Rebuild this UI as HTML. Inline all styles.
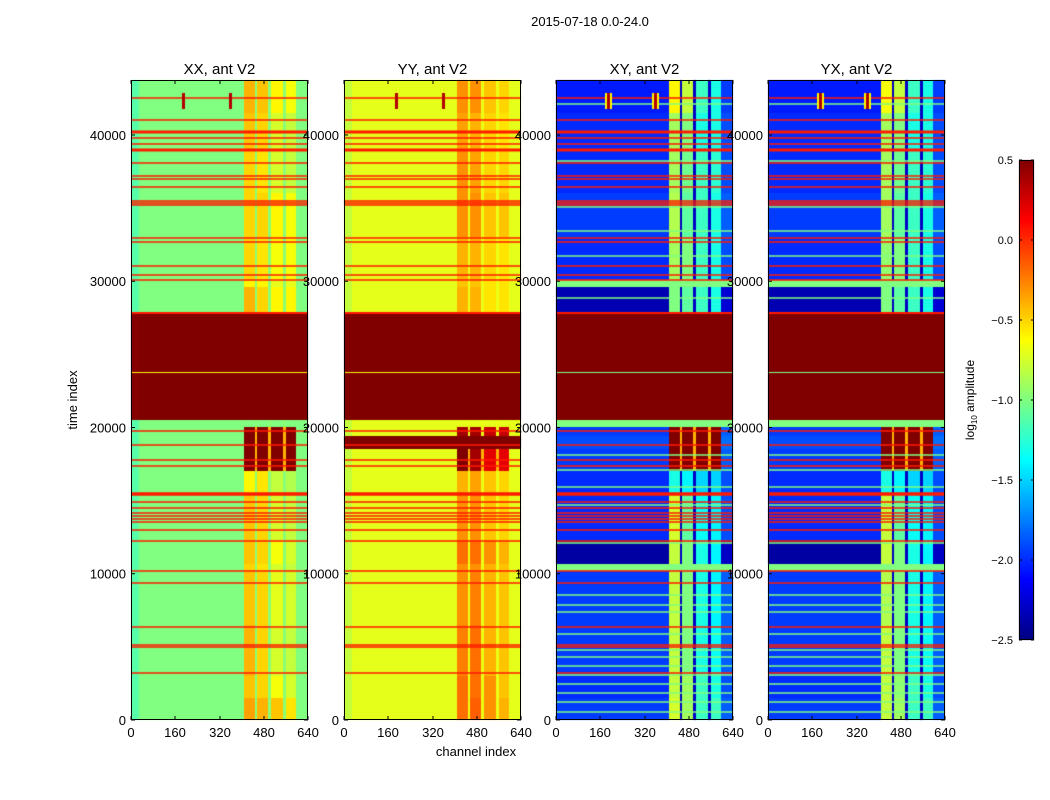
<!DOCTYPE html>
<html><head><meta charset="utf-8"><style>
body{margin:0;background:#fff;width:1050px;height:800px;overflow:hidden;font-family:"Liberation Sans",sans-serif}
#c{position:absolute;left:0;top:0}
#s{position:absolute;left:0;top:0}
</style></head><body>
<canvas id="c" width="1050" height="800"></canvas>
<svg id="s" width="1050" height="800"></svg>
<script>
// ---- data ----
const panelTitles = ["XX, ant V2","YY, ant V2","XY, ant V2","YX, ant V2"];
const channelEdges = [0,30,408,448,457,496,506,550,559,597,640];
const blockStart = [0,1500,3000,6500,10200,10650,12240,15400,17000,18500,19400,20000,20500,27830,29600,30100,33000,36000,39000,41500];
const timeMax = 43760;
const xxBase=[-1,-1,-1,-1,-1,-1,-1,-1,-1,-1,-1,-1,0.6,-1,-1,-1,-1,-1,-1,-1];
const xxB1=[-0.35,-0.45,-0.4,-0.45,-0.5,-0.45,-0.45,-0.6,0.6,0.6,0.6,-1,0.6,-0.4,-0.6,-0.5,-0.5,-0.5,-0.45,-0.4];
const xxB2=[-0.4,-0.5,-0.5,-0.5,-0.55,-0.5,-0.5,-0.55,0.6,0.6,0.6,-1,0.6,-0.5,-0.6,-0.55,-0.5,-0.55,-0.5,-0.45];
const xxB3=[-0.45,-0.65,-0.75,-0.7,-0.75,-0.65,-0.75,-0.8,0.6,0.6,0.6,-1,0.6,-0.6,-0.7,-0.65,-0.6,-0.75,-0.75,-0.6];
const xxB4=[-0.55,-0.75,-0.8,-0.75,-0.8,-0.75,-0.8,-0.85,0.6,0.6,0.6,-1,0.6,-0.6,-0.7,-0.65,-0.65,-0.8,-0.8,-0.65];
const yyBase=[-0.7,-0.7,-0.7,-0.7,-0.7,-0.7,-0.7,-0.7,-0.7,0.6,-0.7,-0.7,0.6,-0.7,-0.7,-0.7,-0.7,-0.7,-0.7,-0.7];
const yyB1=[-0.2,-0.2,-0.25,-0.3,-0.3,-0.2,-0.3,-0.4,0.5,0.6,0.4,-0.7,0.6,-0.4,-0.45,-0.4,-0.3,-0.3,-0.35,-0.3];
const yyB2=[-0.15,-0.2,-0.2,-0.25,-0.3,-0.2,-0.3,-0.35,0.4,0.6,0.4,-0.7,0.6,-0.4,-0.45,-0.4,-0.3,-0.35,-0.4,-0.3];
const yyB3=[-0.3,-0.3,-0.4,-0.4,-0.4,-0.3,-0.45,-0.45,0.2,0.6,0.3,-0.7,0.6,-0.55,-0.55,-0.5,-0.45,-0.5,-0.5,-0.45];
const yyB4=[-0.4,-0.45,-0.45,-0.45,-0.45,-0.4,-0.5,-0.5,0.2,0.6,0.3,-0.7,0.6,-0.55,-0.55,-0.55,-0.45,-0.5,-0.55,-0.5];
const xyBase=[-1.95,-2.0,-1.95,-1.95,-1.0,-2.4,-2.0,-2.0,-1.95,-1.9,-1.95,-1.0,0.6,-2.35,-1.0,-2.0,-1.95,-2.0,-2.0,-2.05];
const xyB1=[-0.75,-0.8,-0.8,-0.8,-1.0,-0.8,-0.75,-1.3,0.5,0.6,0.5,-1.0,0.6,-1.0,-1.0,-0.9,-0.85,-0.9,-0.9,-0.6];
const xyB2=[-0.9,-0.9,-1.0,-1.0,-1.0,-1.0,-1.1,-1.4,0.5,0.6,0.5,-1.0,0.6,-1.1,-1.0,-1.0,-1.1,-1.05,-1.0,-0.8];
const xyB3=[-1.2,-1.2,-1.3,-1.3,-1.0,-1.3,-1.35,-1.5,0.5,0.6,0.5,-1.0,0.6,-1.2,-1.0,-1.2,-1.2,-1.2,-1.3,-1.2];
const xyB4=[-1.2,-1.3,-1.35,-1.4,-1.0,-1.4,-1.4,-1.5,0.5,0.6,0.5,-1.0,0.6,-1.3,-1.0,-1.3,-1.3,-1.25,-1.3,-1.3];
const yxBase=[-1.95,-2.0,-1.95,-1.95,-1.0,-2.4,-2.0,-2.0,-1.95,-1.9,-1.95,-1.0,0.6,-2.35,-1.0,-2.0,-1.95,-2.0,-2.0,-2.05];
const yxB1=[-0.8,-0.8,-0.8,-0.85,-1.0,-0.8,-0.8,-1.3,0.5,0.6,0.5,-1.0,0.6,-1.0,-1.0,-0.95,-0.9,-0.9,-0.9,-0.65];
const yxB2=[-0.9,-0.95,-1.0,-1.0,-1.0,-1.0,-1.1,-1.4,0.5,0.6,0.5,-1.0,0.6,-1.1,-1.0,-1.0,-1.1,-1.05,-1.0,-0.8];
const yxB3=[-1.2,-1.2,-1.3,-1.3,-1.0,-1.3,-1.35,-1.5,0.5,0.6,0.5,-1.0,0.6,-1.2,-1.0,-1.2,-1.2,-1.2,-1.3,-1.2];
const yxB4=[-1.2,-1.3,-1.35,-1.4,-1.0,-1.4,-1.4,-1.5,0.5,0.6,0.5,-1.0,0.6,-1.3,-1.0,-1.3,-1.3,-1.25,-1.3,-1.3];
const gapLevel=[-0.9,-0.65,-2.3,-2.3];
const leftOffset=[-0.12,-0.1,0,0];
const redLineTimes=[42530,41026,40205,39795,39385,38974,38085,37197,36991,36444,35487,35350,35214,32957,32684,31043,30427,30085,27829,19761,18803,17778,17368,15453,14906,14496,14154,13949,13744,13538,12991,12239,10188,9368,6359,5128,4991,3214];
const redLineWidth=[1.5,1.5,3,1.5,1.5,3,1.5,1.5,1.5,1.5,1.5,1.5,1.5,1.5,1.5,1.5,1.5,1.5,2,1.5,1.5,1.5,1.5,3.5,1.5,1.5,1.5,1.5,1.5,1.5,1.5,1.5,1.5,1.5,1.5,1.5,1.5,1.5];
const redLineValue=0.05;
const greenLineTimes=[42120,38222,35077,33436,31726,28855,18120,17094,15932,14701,12103,8547,7863,7385,5880,4786,4308,3692,3077,2462,1846,1231,547];
const greenLineValue=-1.0;
const maroonGapLineTime=23800;
const maroonGapLineValue=[-0.6,-0.6,-1.0,-1.0];
const sourceChannels=[190,360];
const sourceTimes=[41800,42900];
const sourceValue=0.35;
const xTicks=[0,160,320,480,640];
const yTicks=[0,10000,20000,30000,40000];
const cbTicks=[0.5,0.0,-0.5,-1.0,-1.5,-2.0,-2.5];
const vmin=-2.5, vmax=0.5;
// ---- layout ----
const panelX=[131,344,556,768], pw=177, axTop=80, axBot=720;
const xS=(p,ch)=>Math.round(panelX[p]+ch*pw/640);
const yS=t=>Math.round(axBot-(t/timeMax)*(axBot-axTop));
const yF=t=>axBot-(t/timeMax)*(axBot-axTop);
function jet(v){let x=(v-vmin)/(vmax-vmin);x=Math.max(0,Math.min(1,x));
 const c=f=>Math.round(255*Math.max(0,Math.min(1,f)));
 return `rgb(${c(1.5-Math.abs(4*x-3))},${c(1.5-Math.abs(4*x-2))},${c(1.5-Math.abs(4*x-1))})`;}
const panels=[[xxBase,xxB1,xxB2,xxB3,xxB4],[yyBase,yyB1,yyB2,yyB3,yyB4],[xyBase,xyB1,xyB2,xyB3,xyB4],[yxBase,yxB1,yxB2,yxB3,yxB4]];
const ctx=document.getElementById('c').getContext('2d');
for(let p=0;p<4;p++){
 const [base,b1,b2,b3,b4]=panels[p];
 for(let i=0;i<blockStart.length;i++){
  const t0=blockStart[i], t1=i+1<blockStart.length?blockStart[i+1]:timeMax;
  const bands=[b1[i],b2[i],b3[i],b4[i]];
  const anyMaroon=bands.some(v=>v>=0.5);
  let gap = (base[i]>=0.5||(base[i]>=-1.05&&p>=2))?base[i]:(anyMaroon?-0.4:(p<2?base[i]+(gapLevel[p]-base[i])*0.3:gapLevel[p]));
  const segVals=[base[i]+leftOffset[p],base[i],bands[0],gap,bands[1],gap,bands[2],gap,bands[3],base[i]+(p>=2&&base[i]<-1.5?0.1:0)];
  for(let s=0;s<segVals.length;s++){
   ctx.fillStyle=jet(segVals[s]);
   const x0=xS(p,channelEdges[s]),x1=xS(p,channelEdges[s+1]);
   ctx.fillRect(x0,yS(t1),x1-x0,yS(t0)-yS(t1));
  }
 }
 ctx.fillStyle=jet(maroonGapLineValue[p]);
 ctx.fillRect(panelX[p],Math.round(yF(maroonGapLineTime)),pw,1);
 if(p>=2){ctx.fillStyle=jet(greenLineValue);
  greenLineTimes.forEach(t=>ctx.fillRect(panelX[p],yF(t)-0.75,pw,1.5));}
 ctx.fillStyle=jet(redLineValue);
 redLineTimes.forEach((t,k)=>ctx.fillRect(panelX[p],yF(t)-redLineWidth[k]/2,pw,redLineWidth[k]));
 sourceChannels.forEach(ch=>{
  if(p>=2){ctx.fillStyle=jet(-0.6);ctx.fillRect(xS(p,ch-12),yS(sourceTimes[1]),xS(p,ch+12)-xS(p,ch-12),yS(sourceTimes[0])-yS(sourceTimes[1]));}
  ctx.fillStyle=jet(sourceValue);
  ctx.fillRect(xS(p,ch-4),yS(sourceTimes[1]),xS(p,ch+4)-xS(p,ch-4),yS(sourceTimes[0])-yS(sourceTimes[1]));
 });
}
// colorbar
const cbX=1019,cbW=15,cbTop=160,cbBot=640;
for(let y=cbTop;y<cbBot;y++){const v=vmax-(y-cbTop+0.5)/(cbBot-cbTop)*(vmax-vmin);ctx.fillStyle=jet(v);ctx.fillRect(cbX,y,cbW,1);}
// ---- svg ----
const NS="http://www.w3.org/2000/svg",svg=document.getElementById('s');
function el(tag,attrs,text){const e=document.createElementNS(NS,tag);for(const k in attrs)e.setAttribute(k,attrs[k]);if(text!==undefined)e.textContent=text;svg.appendChild(e);return e;}
const fmt=v=>(v<0?"\u2212":"")+Math.abs(v).toFixed(1);
for(let p=0;p<4;p++){
 const fr=el('rect',{x:panelX[p]+0.5,y:axTop+0.5,width:pw-1,height:axBot-axTop-1,fill:'none',stroke:'#000','stroke-width':1});
 
 
 const tt=el('text',{x:panelX[p]+pw/2,y:74,'text-anchor':'middle','font-size':15},panelTitles[p]);
 
 
 xTicks.forEach(v=>{const x=xS(p,v);
  el('line',{x1:x,x2:x,y1:axBot,y2:axBot-4,stroke:'#000'});
  el('line',{x1:x,x2:x,y1:axTop,y2:axTop+4,stroke:'#000'});
  const t=el('text',{x:x,y:737,'text-anchor':'middle','font-size':13},String(v));
  
  });
 yTicks.forEach(v=>{const y=yF(v);
  el('line',{x1:panelX[p],x2:panelX[p]+4,y1:y,y2:y,stroke:'#000'});
  el('line',{x1:panelX[p]+pw,x2:panelX[p]+pw-4,y1:y,y2:y,stroke:'#000'});
  const t=el('text',{x:panelX[p]-5,y:y+5,'text-anchor':'end','font-size':13},String(v));
  
  });
}
const st=el('text',{x:590,y:26,'text-anchor':'middle','font-size':13},"2015-07-18 0.0-24.0");


const xl=el('text',{x:476,y:756,'text-anchor':'middle','font-size':13},"channel index");


const yl=el('text',{x:0,y:0,'text-anchor':'middle','font-size':13,transform:'translate(77,400) rotate(-90)'},"time index");


const cbf=el('rect',{x:cbX+0.5,y:cbTop+0.5,width:cbW-1,height:cbBot-cbTop-1,fill:'none',stroke:'#000'});


cbTicks.forEach(v=>{const y=cbBot-(v-vmin)/(vmax-vmin)*(cbBot-cbTop);
 el('line',{x1:cbX,x2:cbX+3,y1:y,y2:y,stroke:'#000'});
 el('line',{x1:cbX+cbW,x2:cbX+cbW-3,y1:y,y2:y,stroke:'#000'});
 const t=el('text',{x:1013,y:y+4,'text-anchor':'end','font-size':11},fmt(v));
 
 });
const cl=el('text',{x:0,y:0,'text-anchor':'middle','font-size':12,transform:'translate(974,400) rotate(-90)'});


cl.innerHTML='log<tspan font-size="8" dy="3">10</tspan><tspan dy="-3"> amplitude</tspan>';
</script>
</body></html>
